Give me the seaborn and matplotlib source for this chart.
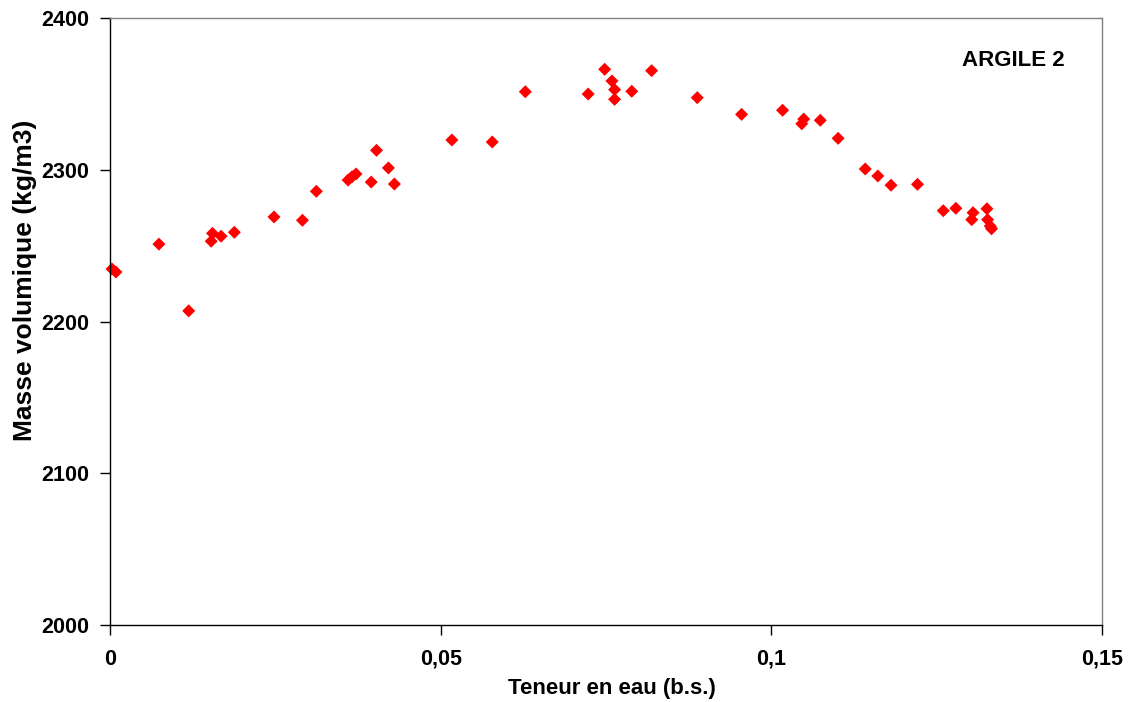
import matplotlib
matplotlib.use("Agg")
import matplotlib.pyplot as plt
import seaborn as sns
import pandas as pd
from matplotlib.ticker import FuncFormatter, MultipleLocator

teneur = [0.0003, 0.0009, 0.0074, 0.0119, 0.0153, 0.0155, 0.0168, 0.0188, 0.0248, 0.0291,
          0.0312, 0.0360, 0.0366, 0.0372, 0.0395, 0.0403, 0.0421, 0.0430, 0.0517, 0.0578,
          0.0628, 0.0723, 0.0748, 0.0759, 0.0763, 0.0763, 0.0789, 0.0819, 0.0888,
          0.0955, 0.1017, 0.1046, 0.1049, 0.1074, 0.1101, 0.1142, 0.1161, 0.1181, 0.1221,
          0.1260, 0.1279, 0.1305, 0.1303, 0.1326, 0.1327, 0.1331, 0.1333]
masse = [2234.6, 2232.6, 2251.0, 2207.0, 2252.9, 2258.1, 2256.2, 2258.8, 2268.9, 2266.7,
         2285.8, 2293.2, 2295.4, 2297.2, 2291.9, 2312.8, 2301.2, 2290.6, 2319.6, 2318.3,
         2351.4, 2349.9, 2366.2, 2358.5, 2352.8, 2346.4, 2351.7, 2365.3, 2347.5,
         2336.5, 2339.2, 2330.3, 2333.4, 2332.6, 2320.7, 2300.5, 2295.9, 2289.8, 2290.4,
         2273.0, 2274.6, 2271.7, 2267.1, 2274.3, 2267.1, 2262.9, 2261.1]

df = pd.DataFrame({"teneur": teneur, "masse": masse})

sns.set_theme(style="white")
plt.rcParams['font.family'] = ['Liberation Sans', 'DejaVu Sans']
plt.rcParams['text.color'] = 'black'
plt.rcParams['axes.labelcolor'] = 'black'
plt.rcParams['xtick.color'] = 'black'
plt.rcParams['ytick.color'] = 'black'

fig = plt.figure(figsize=(11.32, 7.02), dpi=100)
ax = fig.add_axes([110/1132, 1-625/702, 992/1132, 607/702])

sns.scatterplot(data=df, x="teneur", y="masse", marker="D", color="#FF0000",
                s=44, edgecolor="none", linewidth=0, ax=ax, legend=False, clip_on=False)

ax.set_xlim(0, 0.15)
ax.set_ylim(2000, 2400)
ax.xaxis.set_major_locator(MultipleLocator(0.05))
ax.yaxis.set_major_locator(MultipleLocator(100))

def fmt(v, pos):
    if abs(v) < 1e-12:
        return "0"
    s = ("%.2f" % v).rstrip("0").rstrip(".")
    return s.replace(".", ",")

ax.xaxis.set_major_formatter(FuncFormatter(fmt))
ax.yaxis.set_major_formatter(FuncFormatter(lambda v, p: "%d" % v))

ax.tick_params(axis="both", which="major", direction="out", length=7, width=1,
               color="#000000", labelsize=15.5, bottom=True, left=True)
ax.tick_params(axis="y", pad=8)
ax.tick_params(axis="x", pad=10)
for lab in ax.get_xticklabels() + ax.get_yticklabels():
    lab.set_fontweight("bold")

for side in ["left", "bottom"]:
    ax.spines[side].set_color("#000000")
    ax.spines[side].set_linewidth(1)
for side in ["top", "right"]:
    ax.spines[side].set_color("#808080")
    ax.spines[side].set_linewidth(1)

ax.set_xlabel("Teneur en eau (b.s.)", fontsize=16, fontweight="bold")
ax.xaxis.set_label_coords(0.506, -0.088)
ax.set_ylabel("Masse volumique (kg/m3)", fontsize=19, fontweight="bold")
ax.yaxis.set_label_coords(-0.074, 0.568)

ax.text(0.962, 0.93, "ARGILE 2", transform=ax.transAxes, ha="right", va="center",
        fontsize=16, fontweight="bold")

fig.savefig("out.png", dpi=100)
